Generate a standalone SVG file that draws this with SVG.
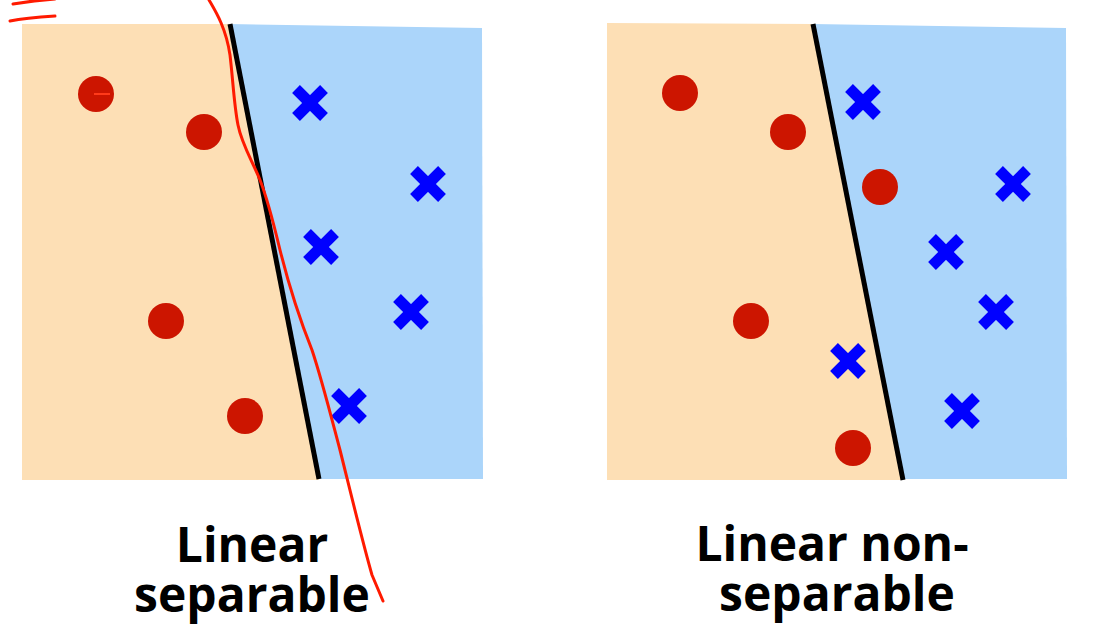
<svg xmlns="http://www.w3.org/2000/svg" width="1097" height="640" viewBox="0 0 1097 640">
<defs>
<style>
.orange{fill:#fddfb5}
.blue{fill:#abd5fa}
.bound{stroke:#000;stroke-width:5;fill:none}
.pt{fill:#cc1500}
.x{stroke:#0000ff;stroke-width:11;stroke-linecap:butt}
.lbl{font-family:"Open Sans","Noto Sans","DejaVu Sans",sans-serif;font-weight:700;font-size:48px;fill:#000;text-anchor:middle}
.ink{stroke:#ff1a00;stroke-width:3;fill:none;stroke-linecap:round;stroke-linejoin:round}
</style>
<g id="cross"><line class="x" x1="-14" y1="-14" x2="14" y2="14"/><line class="x" x1="-14" y1="14" x2="14" y2="-14"/></g>
</defs>
<rect width="1097" height="640" fill="#fff"/>

<g id="panel-left">
<polygon class="blue" points="228,24 482,28 483,479 318,479"/>
<polygon class="orange" points="22,24 230,24 319,480 22,480"/>
<line class="bound" x1="230" y1="24" x2="319" y2="479"/>
<circle class="pt" cx="96" cy="94" r="18"/>
<circle class="pt" cx="204" cy="132" r="18"/>
<circle class="pt" cx="166" cy="321" r="18"/>
<circle class="pt" cx="245" cy="416" r="18"/>
<use href="#cross" x="310" y="103"/>
<use href="#cross" x="428" y="184"/>
<use href="#cross" x="321" y="247"/>
<use href="#cross" x="411" y="312"/>
<use href="#cross" x="349" y="406"/>
<text class="lbl" x="252" y="562">Linear</text>
<text class="lbl" x="252" y="612">separable</text>
</g>

<g id="panel-right">
<polygon class="blue" points="812,24 1066,28 1067,479 902,479"/>
<polygon class="orange" points="607,23 814,24 903,480 607,480"/>
<line class="bound" x1="813" y1="24" x2="903" y2="480"/>
<circle class="pt" cx="680" cy="93" r="18"/>
<circle class="pt" cx="788" cy="132" r="18"/>
<circle class="pt" cx="880" cy="187" r="18"/>
<circle class="pt" cx="751" cy="321" r="18"/>
<circle class="pt" cx="853" cy="448" r="18"/>
<use href="#cross" x="863" y="102"/>
<use href="#cross" x="1013" y="184"/>
<use href="#cross" x="946" y="252"/>
<use href="#cross" x="996" y="312"/>
<use href="#cross" x="848" y="361"/>
<use href="#cross" x="962" y="411"/>
<text class="lbl" x="832" y="561">Linear non-</text>
<text class="lbl" x="837" y="611">separable</text>
</g>

<g id="annotations">
<path class="ink" d="M209,0 C216,12 226,28 230,55 C233,80 234,105 238,125 C242,145 252,160 260,180 C268,200 274,225 280,250 C290,290 300,320 312,350 C322,380 332,420 340,450 C350,490 362,540 372,575 L383,601"/>
<path class="ink" stroke-width="4" d="M13,4 C25,2 40,0 55,-1"/>
<path class="ink" stroke-width="4" d="M10,21 C25,18 40,17 55,16"/>
<line x1="94" y1="94" x2="110" y2="94" stroke="#ff3a1a" stroke-width="2"/>
</g>
</svg>
